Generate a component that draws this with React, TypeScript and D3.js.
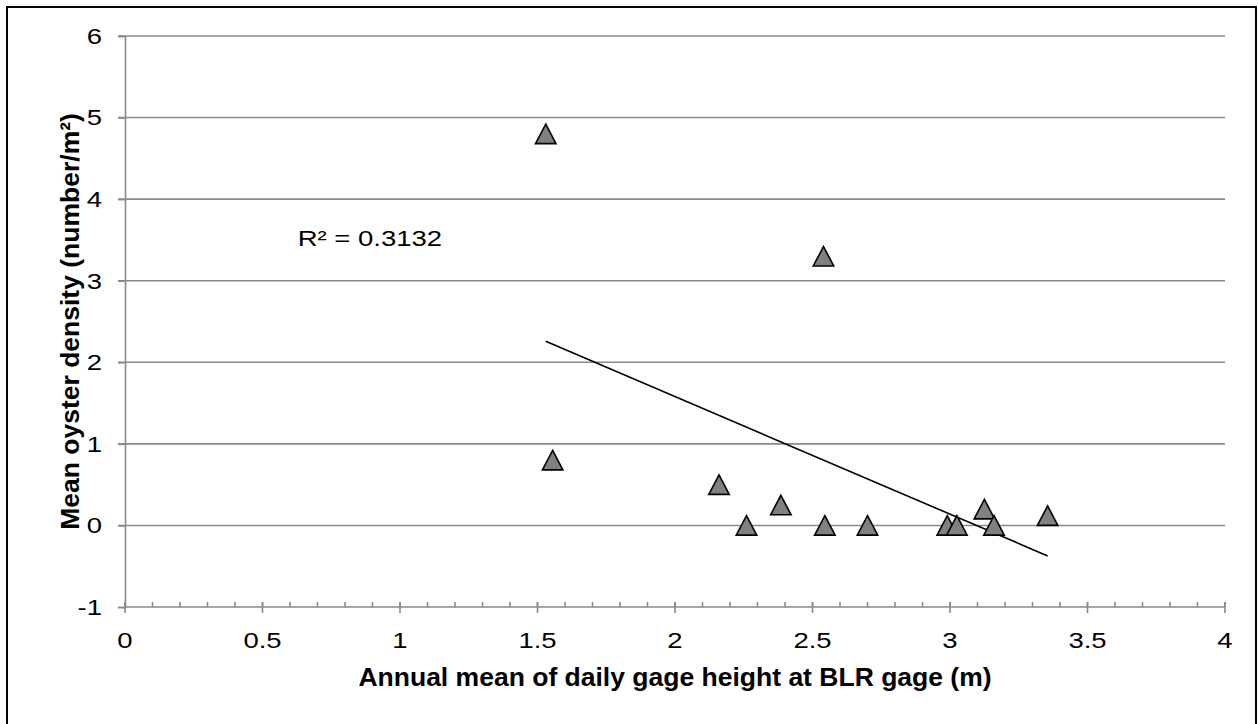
import { useEffect, useRef } from 'react'
import * as d3 from 'd3'

// annual mean gage height (m) vs mean oyster density (number/m²)
const gageHeight = [1.53, 1.555, 2.16, 2.26, 2.385, 2.54, 2.545, 2.70, 2.99, 3.025, 3.125, 3.16, 3.355]
const oysterDensity = [4.8, 0.8, 0.5, 0, 0.25, 3.3, 0, 0, 0, 0, 0.2, 0, 0.12]
const xTicks = [0, 0.5, 1, 1.5, 2, 2.5, 3, 3.5, 4]
const yTicks = [-1, 0, 1, 2, 3, 4, 5, 6]
const rSquaredLabel = 'R² = 0.3132'
const xTitle = 'Annual mean of daily gage height at BLR gage (m)'
const yTitle = 'Mean oyster density (number/m²)'

const FONT = '"Liberation Sans", Arial, sans-serif'
const AXIS_GRAY = '#8a8a8a'
const STRETCH = 1.25 // labels in the original are a bit wide

// Excel-like triangle marker: slightly taller than equilateral
const excelTriangle = {
  draw(ctx: any, size: number) {
    const w = Math.sqrt(size)
    const h = w * 0.95
    ctx.moveTo(0, -h / 2)
    ctx.lineTo(w / 2, h / 2)
    ctx.lineTo(-w / 2, h / 2)
    ctx.closePath()
  },
}

export default function App() {
  const ref = useRef<SVGSVGElement>(null)

  useEffect(() => {
    if (!ref.current) return
    const width = 1258
    const height = 724
    const margin = { top: 36, right: 33, bottom: 117, left: 125 }
    const innerW = width - margin.left - margin.right
    const innerH = height - margin.top - margin.bottom

    const svg = d3.select(ref.current)
    svg.selectAll('*').remove()
    svg.attr('width', width).attr('height', height)

    svg.append('rect').attr('width', width).attr('height', height).attr('fill', '#fff')
    svg
      .append('rect')
      .attr('x', 7)
      .attr('y', 7)
      .attr('width', 1249)
      .attr('height', 740)
      .attr('fill', 'none')
      .attr('stroke', '#000')
      .attr('stroke-width', 2)

    const g = svg.append('g').attr('transform', `translate(${margin.left},${margin.top})`)

    const x = d3.scaleLinear().domain([0, 4]).range([0, innerW])
    const y = d3.scaleLinear().domain([-1, 6]).range([innerH, 0])

    // horizontal gridlines
    g.append('g')
      .selectAll('line')
      .data(yTicks.filter((d) => d > -1))
      .enter()
      .append('line')
      .attr('x1', -7)
      .attr('x2', innerW)
      .attr('y1', (d) => y(d))
      .attr('y2', (d) => y(d))
      .attr('stroke', AXIS_GRAY)
      .attr('stroke-width', 1.6)

    // y axis
    const yAxis = g.append('g').call(d3.axisLeft(y).tickValues(yTicks).tickSize(7).tickFormat(() => ''))
    yAxis.select('.domain').attr('stroke', AXIS_GRAY).attr('stroke-width', 1.6)
    yAxis.selectAll('.tick line').attr('stroke', AXIS_GRAY).attr('stroke-width', 1.6)
    g.append('g')
      .selectAll('text')
      .data(yTicks)
      .enter()
      .append('text')
      .attr('transform', (d) => `translate(-23,${y(d)}) scale(${STRETCH},1)`)
      .attr('dy', '0.36em')
      .attr('text-anchor', 'end')
      .attr('font-family', FONT)
      .attr('font-size', '22px')
      .attr('fill', '#000')
      .text((d) => String(d))

    // x axis: minor ticks up, major ticks crossing
    const xAxisG = g.append('g').attr('transform', `translate(0,${innerH})`)
    xAxisG
      .append('line')
      .attr('x1', 0)
      .attr('x2', innerW)
      .attr('stroke', AXIS_GRAY)
      .attr('stroke-width', 1.6)
    xAxisG
      .selectAll('line.minor')
      .data(d3.range(0, 41).map((i) => i / 10))
      .enter()
      .append('line')
      .attr('class', 'minor')
      .attr('x1', (d) => x(d))
      .attr('x2', (d) => x(d))
      .attr('y1', -5)
      .attr('y2', 0)
      .attr('stroke', AXIS_GRAY)
      .attr('stroke-width', 1.6)
    xAxisG
      .selectAll('line.major')
      .data(xTicks)
      .enter()
      .append('line')
      .attr('class', 'major')
      .attr('x1', (d) => x(d))
      .attr('x2', (d) => x(d))
      .attr('y1', -5)
      .attr('y2', 6)
      .attr('stroke', AXIS_GRAY)
      .attr('stroke-width', 1.6)
    xAxisG
      .selectAll('text')
      .data(xTicks)
      .enter()
      .append('text')
      .attr('transform', (d) => `translate(${x(d)},41) scale(${STRETCH},1)`)
      .attr('text-anchor', 'middle')
      .attr('font-family', FONT)
      .attr('font-size', '22px')
      .attr('fill', '#000')
      .text((d) => String(d))

    // linear trendline through the points
    const mx = d3.mean(gageHeight) as number
    const my = d3.mean(oysterDensity) as number
    let sxy = 0
    let sxx = 0
    gageHeight.forEach((v, i) => {
      sxy += (v - mx) * (oysterDensity[i] - my)
      sxx += (v - mx) * (v - mx)
    })
    const slope = sxy / sxx
    const intercept = my - slope * mx
    const [x0, x1] = d3.extent(gageHeight) as [number, number]
    g.append('path')
      .datum([x0, x1])
      .attr(
        'd',
        d3
          .line<number>()
          .x((d) => x(d))
          .y((d) => y(intercept + slope * d))
      )
      .attr('stroke', '#000')
      .attr('stroke-width', 1.6)
      .attr('fill', 'none')

    // markers
    const symbol = d3.symbol().type(excelTriangle as any).size(420)
    g.append('g')
      .selectAll('path')
      .data(gageHeight.map((v, i) => [v, oysterDensity[i]]))
      .enter()
      .append('path')
      .attr('d', symbol)
      .attr('transform', (d) => `translate(${x(d[0])},${y(d[1])})`)
      .attr('fill', '#808080')
      .attr('stroke', '#000')
      .attr('stroke-width', 1.6)

    g.append('text')
      .attr('transform', `translate(${x(0.628)},${y(3.43)}) scale(${STRETCH},1)`)
      .attr('font-family', FONT)
      .attr('font-size', '22px')
      .attr('fill', '#000')
      .text(rSquaredLabel)

    // axis titles
    svg
      .append('text')
      .attr('x', margin.left + innerW / 2)
      .attr('y', 686)
      .attr('text-anchor', 'middle')
      .attr('font-family', FONT)
      .attr('font-size', '26.5px')
      .attr('font-weight', 'bold')
      .attr('fill', '#000')
      .text(xTitle)

    svg
      .append('text')
      .attr('transform', `translate(79,${margin.top + innerH / 2}) rotate(-90)`)
      .attr('text-anchor', 'middle')
      .attr('font-family', FONT)
      .attr('font-size', '26.5px')
      .attr('font-weight', 'bold')
      .attr('fill', '#000')
      .text(yTitle)
  }, [])

  return <svg ref={ref} style={{ position: 'absolute', left: 0, top: 0, display: 'block' }} />
}
